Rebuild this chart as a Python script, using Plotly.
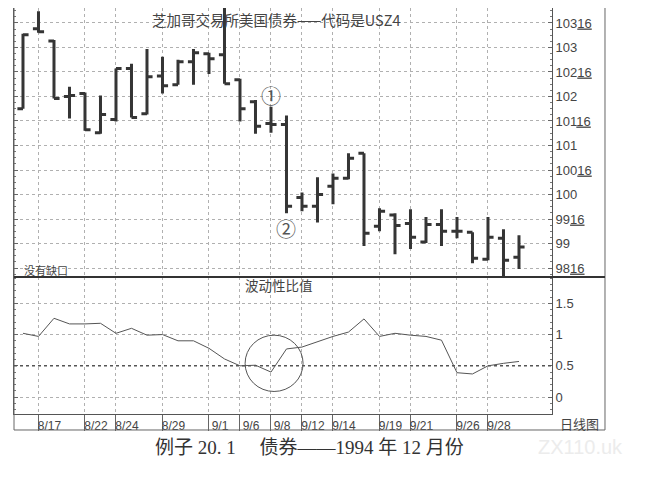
import plotly.graph_objects as go

# daily bars, 16 Aug - 30 Sep 1994 (USZ4 bonds)
dates = ['8/16', '8/17', '8/18', '8/19', '8/22', '8/23', '8/24', '8/25', '8/26',
         '8/29', '8/30', '8/31', '9/1', '9/2', '9/6', '9/7', '9/8', '9/9',
         '9/12', '9/13', '9/14', '9/15', '9/16', '9/19', '9/20', '9/21', '9/22',
         '9/23', '9/26', '9/27', '9/28', '9/29', '9/30']
opens = [101.75, 103.38, 103.13, 102.00, 102.06, 101.26, 101.53, 102.57, 101.65,
         102.42, 102.24, 102.71, 102.87, 102.85, 102.34, 101.89, 101.45, 101.43,
         99.94, 99.76, 100.17, 100.33, 100.84, 99.35, 99.58, 99.41, 99.03,
         99.39, 99.25, 99.23, 98.68, 99.11, 98.72]
highs = [103.28, 103.74, 103.15, 102.20, 102.08, 102.02, 102.57, 102.67, 102.97,
         102.81, 102.75, 102.97, 102.89, 103.95, 102.36, 101.93, 101.79, 101.61,
         100.04, 100.35, 100.43, 100.84, 100.84, 99.72, 99.62, 99.70, 99.54,
         99.70, 99.54, 99.23, 99.54, 99.29, 99.17]
lows = [101.75, 103.30, 101.96, 101.55, 101.30, 101.24, 101.49, 101.57, 101.63,
        102.06, 102.24, 102.24, 102.46, 102.26, 101.49, 101.24, 101.26, 99.62,
        99.66, 99.43, 99.80, 100.31, 98.95, 99.25, 98.78, 98.89, 99.01,
        98.95, 99.11, 98.60, 98.66, 98.20, 98.48]
closes = [103.26, 103.32, 101.96, 102.02, 101.32, 101.63, 102.57, 101.57, 102.40,
          102.22, 102.71, 102.89, 102.77, 102.26, 101.75, 101.39, 101.43, 99.76,
          99.76, 100.00, 100.33, 100.74, 99.21, 99.66, 99.37, 99.13, 99.39,
          99.25, 99.25, 98.70, 99.13, 98.66, 98.93]
# volatility ratio
vol_ratio = [1.02, 0.97, 1.26, 1.17, 1.17, 1.18, 1.02, 1.10, 0.99, 1.00, 0.90,
             0.90, 0.78, 0.61, 0.50, 0.51, 0.40, 0.77, 0.80, 0.89, 0.97, 1.04,
             1.25, 0.97, 1.02, 0.99, 0.97, 0.91, 0.39, 0.37, 0.50, 0.54, 0.57]

tick_dates = ['8/17', '8/22', '8/24', '8/29', '9/1', '9/6', '9/8', '9/12',
              '9/14', '9/19', '9/21', '9/26', '9/28']
price_ticks = [98.5, 99, 99.5, 100, 100.5, 101, 101.5, 102, 102.5, 103, 103.5]
price_labels = ['98<u>16</u>', '99', '99<u>16</u>', '100', '100<u>16</u>', '101',
                '101<u>16</u>', '102', '102<u>16</u>', '103', '103<u>16</u>']
ratio_ticks = [0, 0.5, 1, 1.5]

xs = list(range(len(dates)))
tick_idx = [dates.index(d) for d in tick_dates]

ink = '#353535'
grid = '#b0b0b0'
font_cn = 'Noto Sans CJK SC'
font_num = 'Liberation Sans Narrow, Liberation Sans, Noto Sans CJK SC'

fig = go.Figure()
fig.add_trace(go.Ohlc(x=xs, open=opens, high=highs, low=lows, close=closes,
                      increasing=dict(line=dict(color=ink, width=3)),
                      decreasing=dict(line=dict(color=ink, width=3)),
                      tickwidth=0.36, xaxis='x', yaxis='y', showlegend=False,
                      hoverinfo='skip'))
fig.add_trace(go.Scatter(x=xs, y=vol_ratio, mode='lines', xaxis='x', yaxis='y2',
                         line=dict(color='#555555', width=1), showlegend=False))

# page body has an 8px margin, so the figure is a bit smaller than the window
split = 137 / 406
fig.update_layout(
    width=645, height=480,
    margin=dict(l=6, r=101, t=0, b=74),
    paper_bgcolor='white', plot_bgcolor='white',
    font=dict(family=font_num, color='#444444', size=12),
    xaxis=dict(range=[-0.58, 34.13], anchor='y2', domain=[0, 1],
               tickvals=tick_idx, ticktext=tick_dates,
               showgrid=True, gridcolor=grid, griddash='dot', gridwidth=1,
               ticks='outside', ticklen=16, tickcolor='#666666',
               ticklabelshift=11, ticklabelstandoff=-15,
               tickfont=dict(size=12, family=font_num, color='#444444'),
               showline=True, linecolor='#555555', linewidth=1,
               zeroline=False, rangeslider=dict(visible=False)),
    yaxis=dict(domain=[split, 1], range=[98.317, 103.805], side='right',
               anchor='x', tickvals=price_ticks, ticktext=price_labels,
               showgrid=True, gridcolor=grid, griddash='dot',
               ticks='inside', ticklen=4, tickcolor='#666666',
               minor=dict(ticks='inside', ticklen=2, dtick=0.125, tickcolor='#777777',
                          showgrid=False),
               showline=True, linecolor='#555555', mirror='ticks',
               tickfont=dict(size=13), zeroline=False),
    yaxis2=dict(domain=[0, split], range=[-0.27, 1.92], side='right',
                anchor='x', tickvals=ratio_ticks,
                showgrid=True, gridcolor=grid, griddash='dot',
                ticks='inside', ticklen=4, tickcolor='#666666',
                minor=dict(ticks='inside', ticklen=2, dtick=0.1, tickcolor='#777777',
                           showgrid=False),
                showline=True, linecolor='#555555', mirror='ticks',
                tickfont=dict(size=13), zeroline=False),
)

# frame, panel divider and the 0.5 level
fig.add_shape(type='rect', xref='paper', yref='paper', x0=0, x1=1.0985,
              y0=-0.0394, y1=1.0025, line=dict(color='#666666', width=1))
fig.add_shape(type='line', xref='paper', yref='paper', x0=0, x1=1.0985,
              y0=split, y1=split, line=dict(color='#333333', width=2))
fig.add_shape(type='line', xref='paper', yref='y2', x0=0, x1=1, y0=0.5, y1=0.5,
              line=dict(color='#555555', width=1.5, dash='dot'))
# circle round the low in the ratio
fig.add_shape(type='circle', xref='x', yref='y2', x0=14.33, x1=18.07,
              y0=0.09, y1=0.99, line=dict(color='#555555', width=1))

# title sits at the very top, anchored by its top edge so it is not cut
fig.add_annotation(text='芝加哥交易所美国债券——代码是USZ4', x=0.4888, y=1.0,
                   xref='paper', yref='paper', xanchor='center', yanchor='top',
                   showarrow=False, borderpad=0,
                   font=dict(family=font_cn, size=14.5, color='#444444'))

notes = [
    dict(text='没有缺口', x=0.015, y=0.355, size=11, xanchor='left'),
    dict(text='波动性比值', x=0.4926, y=0.318, size=13.5),
    dict(text='日线图', x=1.052, y=-0.0246, size=13),
]
for n in notes:
    fig.add_annotation(text=n['text'], x=n['x'], y=n['y'], xref='paper', yref='paper',
                       xanchor=n.get('xanchor', 'center'), yanchor='middle',
                       showarrow=False,
                       font=dict(family=font_cn, size=n['size'], color='#444444'))

fig.add_annotation(text='①', x=16.0, y=102.02, xref='x', yref='y', showarrow=False,
                   font=dict(family=font_cn, size=20, color='#555555'))
fig.add_annotation(text='②', x=16.97, y=99.31, xref='x', yref='y', showarrow=False,
                   font=dict(family=font_cn, size=20, color='#555555'))

fig.add_annotation(text='例子 20. 1　 债券——1994 年 12 月份', x=0.55, y=-0.113,
                   xref='paper', yref='paper', showarrow=False,
                   font=dict(family='Liberation Serif, Noto Sans CJK SC', size=19,
                             color='#333333'))
fig.add_annotation(text='ZX110.uk', x=1.135, y=-0.113, xref='paper', yref='paper',
                   showarrow=False,
                   font=dict(family='Liberation Sans', size=20, color='#ececec'))

fig.write_html('out.html')
